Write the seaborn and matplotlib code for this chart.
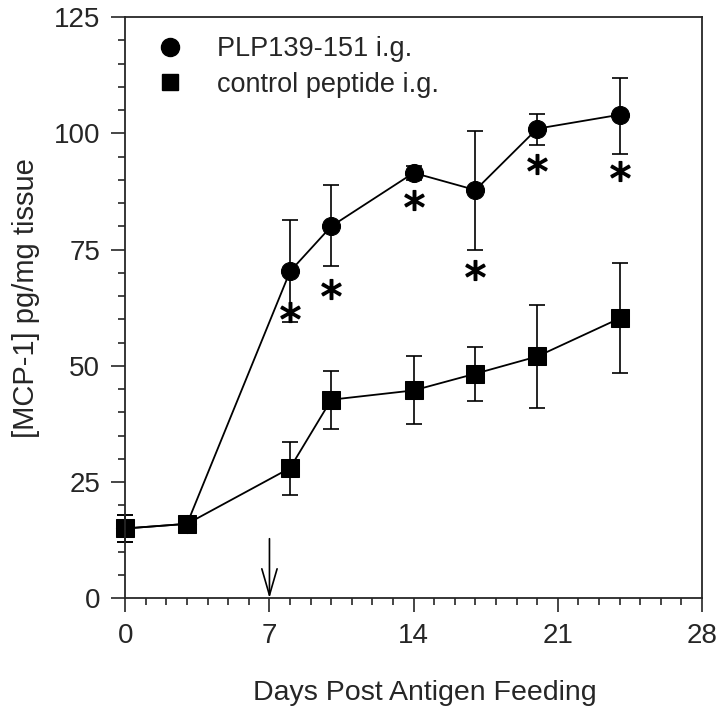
import pandas as pd
import numpy as np
import matplotlib
matplotlib.use("Agg")
import matplotlib.pyplot as plt
import seaborn as sns
from matplotlib.lines import Line2D

# datos
days = [0, 3, 8, 10, 14, 17, 20, 24]
plp_mean = [15.0, 16.0, 70.3, 80.0, 91.5, 87.8, 101.0, 104.0]
plp_low = [12.0, 14.5, 59.5, 71.5, 90.0, 75.0, 97.5, 95.5]
plp_high = [18.0, 17.5, 81.3, 88.8, 93.0, 100.5, 104.2, 112.0]
ctrl_mean = [15.0, 16.0, 28.0, 42.7, 44.7, 48.3, 52.0, 60.2]
ctrl_low = [12.0, 14.5, 22.2, 36.5, 37.5, 42.5, 41.0, 48.5]
ctrl_high = [18.0, 17.5, 33.5, 48.8, 52.0, 54.0, 63.0, 72.0]

# asteriscos de significancia
star_days = [8, 10, 14, 17, 20, 24]
star_y = [61.5, 66.5, 85.6, 70.5, 93.5, 91.8]

df = pd.DataFrame({
    "day": days * 2,
    "mcp1": plp_mean + ctrl_mean,
    "group": ["PLP139-151 i.g."] * len(days) + ["control peptide i.g."] * len(days),
})

sns.set_style("ticks")
plt.rcParams['font.family'] = ['Liberation Sans', 'DejaVu Sans']

fig = plt.figure(figsize=(7.2, 7.13), dpi=100)
ax = fig.add_axes([0.174, 0.161, 0.801, 0.815])

sns.lineplot(data=df, x="day", y="mcp1", hue="group", style="group",
             markers={"PLP139-151 i.g.": "o", "control peptide i.g.": "s"},
             dashes=False, palette=["black", "black"], markersize=13,
             markeredgecolor="black", linewidth=1.3, ax=ax, legend=False)
for ln in ax.lines:
    ln.set_clip_on(False)

for mean, low, high in [(plp_mean, plp_low, plp_high), (ctrl_mean, ctrl_low, ctrl_high)]:
    m = np.array(mean)
    yerr = [m - np.array(low), np.array(high) - m]
    eb = ax.errorbar(days, m, yerr=yerr, fmt="none", ecolor="black",
                     elinewidth=1.2, capsize=5.5, capthick=1.2)
    for art in eb.lines[1] + eb.lines[2]:
        art.set_clip_on(False)

ax.scatter(star_days, star_y, marker="$*$", s=200, color="black", linewidths=1.1)

# flecha en día 7
ax.annotate("", xy=(7, 0), xytext=(7, 12.8),
            arrowprops=dict(arrowstyle="->,head_length=1.9,head_width=0.55",
                            color="black", lw=1.2, shrinkA=0, shrinkB=0))

ax.set_xlim(0, 28)
ax.set_ylim(0, 125)
ax.set_xticks([0, 7, 14, 21, 28])
ax.set_xticks(np.arange(0, 29, 1), minor=True)
ax.set_yticks([0, 25, 50, 75, 100, 125])
ax.set_yticks(np.arange(0, 126, 5), minor=True)
ax.tick_params(axis="both", which="major", length=10, width=1.2, labelsize=20, direction="out", pad=8)
ax.tick_params(axis="both", which="minor", length=5, width=1.2, direction="out")
for s in ax.spines.values():
    s.set_linewidth(1.3)
    s.set_visible(True)

ax.set_xlabel("Days Post Antigen Feeding", fontsize=20.5)
ax.set_ylabel("[MCP-1] pg/mg tissue", fontsize=21)
ax.xaxis.set_label_coords(0.52, -0.14)
ax.yaxis.set_label_coords(-0.148, 0.516)

handles = [Line2D([], [], marker="o", color="black", linestyle="none", markersize=13),
           Line2D([], [], marker="s", color="black", linestyle="none", markersize=11)]
ax.legend(handles, ["PLP139-151 i.g.", "control peptide i.g."], loc="upper left",
          frameon=False, fontsize=19.5, handlelength=1.0, handletextpad=1.2,
          borderaxespad=0.3, labelspacing=0.35, bbox_to_anchor=(0.022, 1.0))

fig.savefig("out.png", dpi=100)
